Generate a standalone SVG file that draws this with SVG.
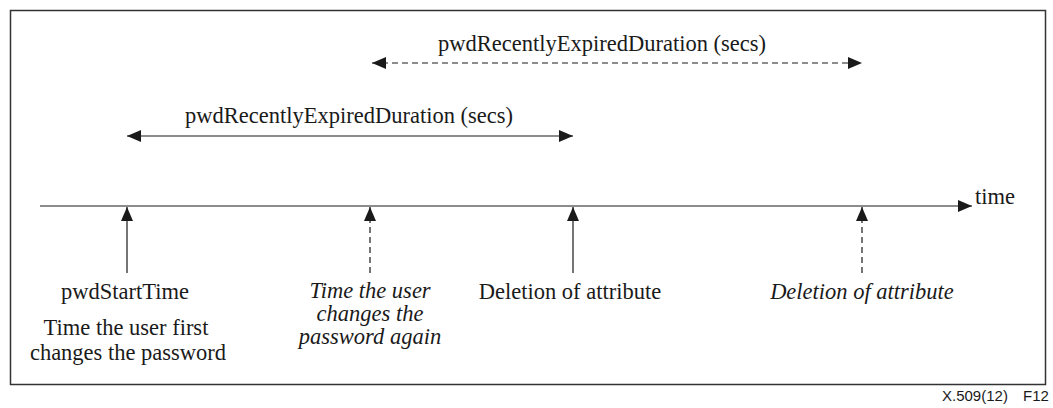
<svg xmlns="http://www.w3.org/2000/svg" width="1053" height="408" viewBox="0 0 1053 408">
<defs>
<marker id="ah" viewBox="0 0 14 12" refX="14" refY="6" markerWidth="14" markerHeight="12" markerUnits="userSpaceOnUse" orient="auto-start-reverse">
<path d="M0,0 L14,6 L0,12 Z" fill="#1a1a1a"/>
</marker>
</defs>
<style>
.t{font-family:"Liberation Serif","Times New Roman",serif;font-size:22.5px;fill:#1a1a1a;text-anchor:middle}
.i{font-style:italic}
.ln{stroke:#1a1a1a;stroke-width:1.2;fill:none}
.d{stroke-dasharray:6,4}
</style>
<rect x="10.5" y="10.5" width="1035" height="374" fill="#fff" stroke="#333" stroke-width="1.5"/>
<g id="connectors">
<line class="ln" x1="40" y1="206" x2="972" y2="206" marker-end="url(#ah)"/>
<line class="ln" x1="127" y1="136" x2="573" y2="136" marker-start="url(#ah)" marker-end="url(#ah)"/>
<line class="ln d" x1="372" y1="63" x2="862" y2="63" marker-start="url(#ah)" marker-end="url(#ah)"/>
<line class="ln" x1="127" y1="273" x2="127" y2="207" marker-end="url(#ah)"/>
<line class="ln d" x1="370" y1="273" x2="370" y2="207" marker-end="url(#ah)"/>
<line class="ln" x1="573" y1="273" x2="573" y2="207" marker-end="url(#ah)"/>
<line class="ln d" x1="862" y1="273" x2="862" y2="207" marker-end="url(#ah)"/>
</g>
<g id="time"><text class="t" x="975" y="204" style="text-anchor:start">time</text></g>
<g id="dur1"><text class="t" x="349" y="123">pwdRecentlyExpiredDuration (secs)</text></g>
<g id="dur2"><text class="t" x="602" y="51">pwdRecentlyExpiredDuration (secs)</text></g>
<g id="start"><text class="t" x="125" y="299">pwdStartTime</text>
<text class="t" x="126" y="335">Time the user first</text>
<text class="t" x="128" y="360">changes the password</text></g>
<g id="change"><text class="t i" x="370" y="298">Time the user</text>
<text class="t i" x="370" y="321">changes the</text>
<text class="t i" x="370" y="344">password again</text></g>
<g id="del1"><text class="t" x="570" y="299">Deletion of attribute</text></g>
<g id="del2"><text class="t i" x="862" y="299">Deletion of attribute</text></g>
<g id="label" style="font-family:'Liberation Sans',Arial,sans-serif;font-size:15px;fill:#1a1a1a"><text x="942" y="401">X.509(12)</text><text x="1023" y="401">F12</text></g>
</svg>
